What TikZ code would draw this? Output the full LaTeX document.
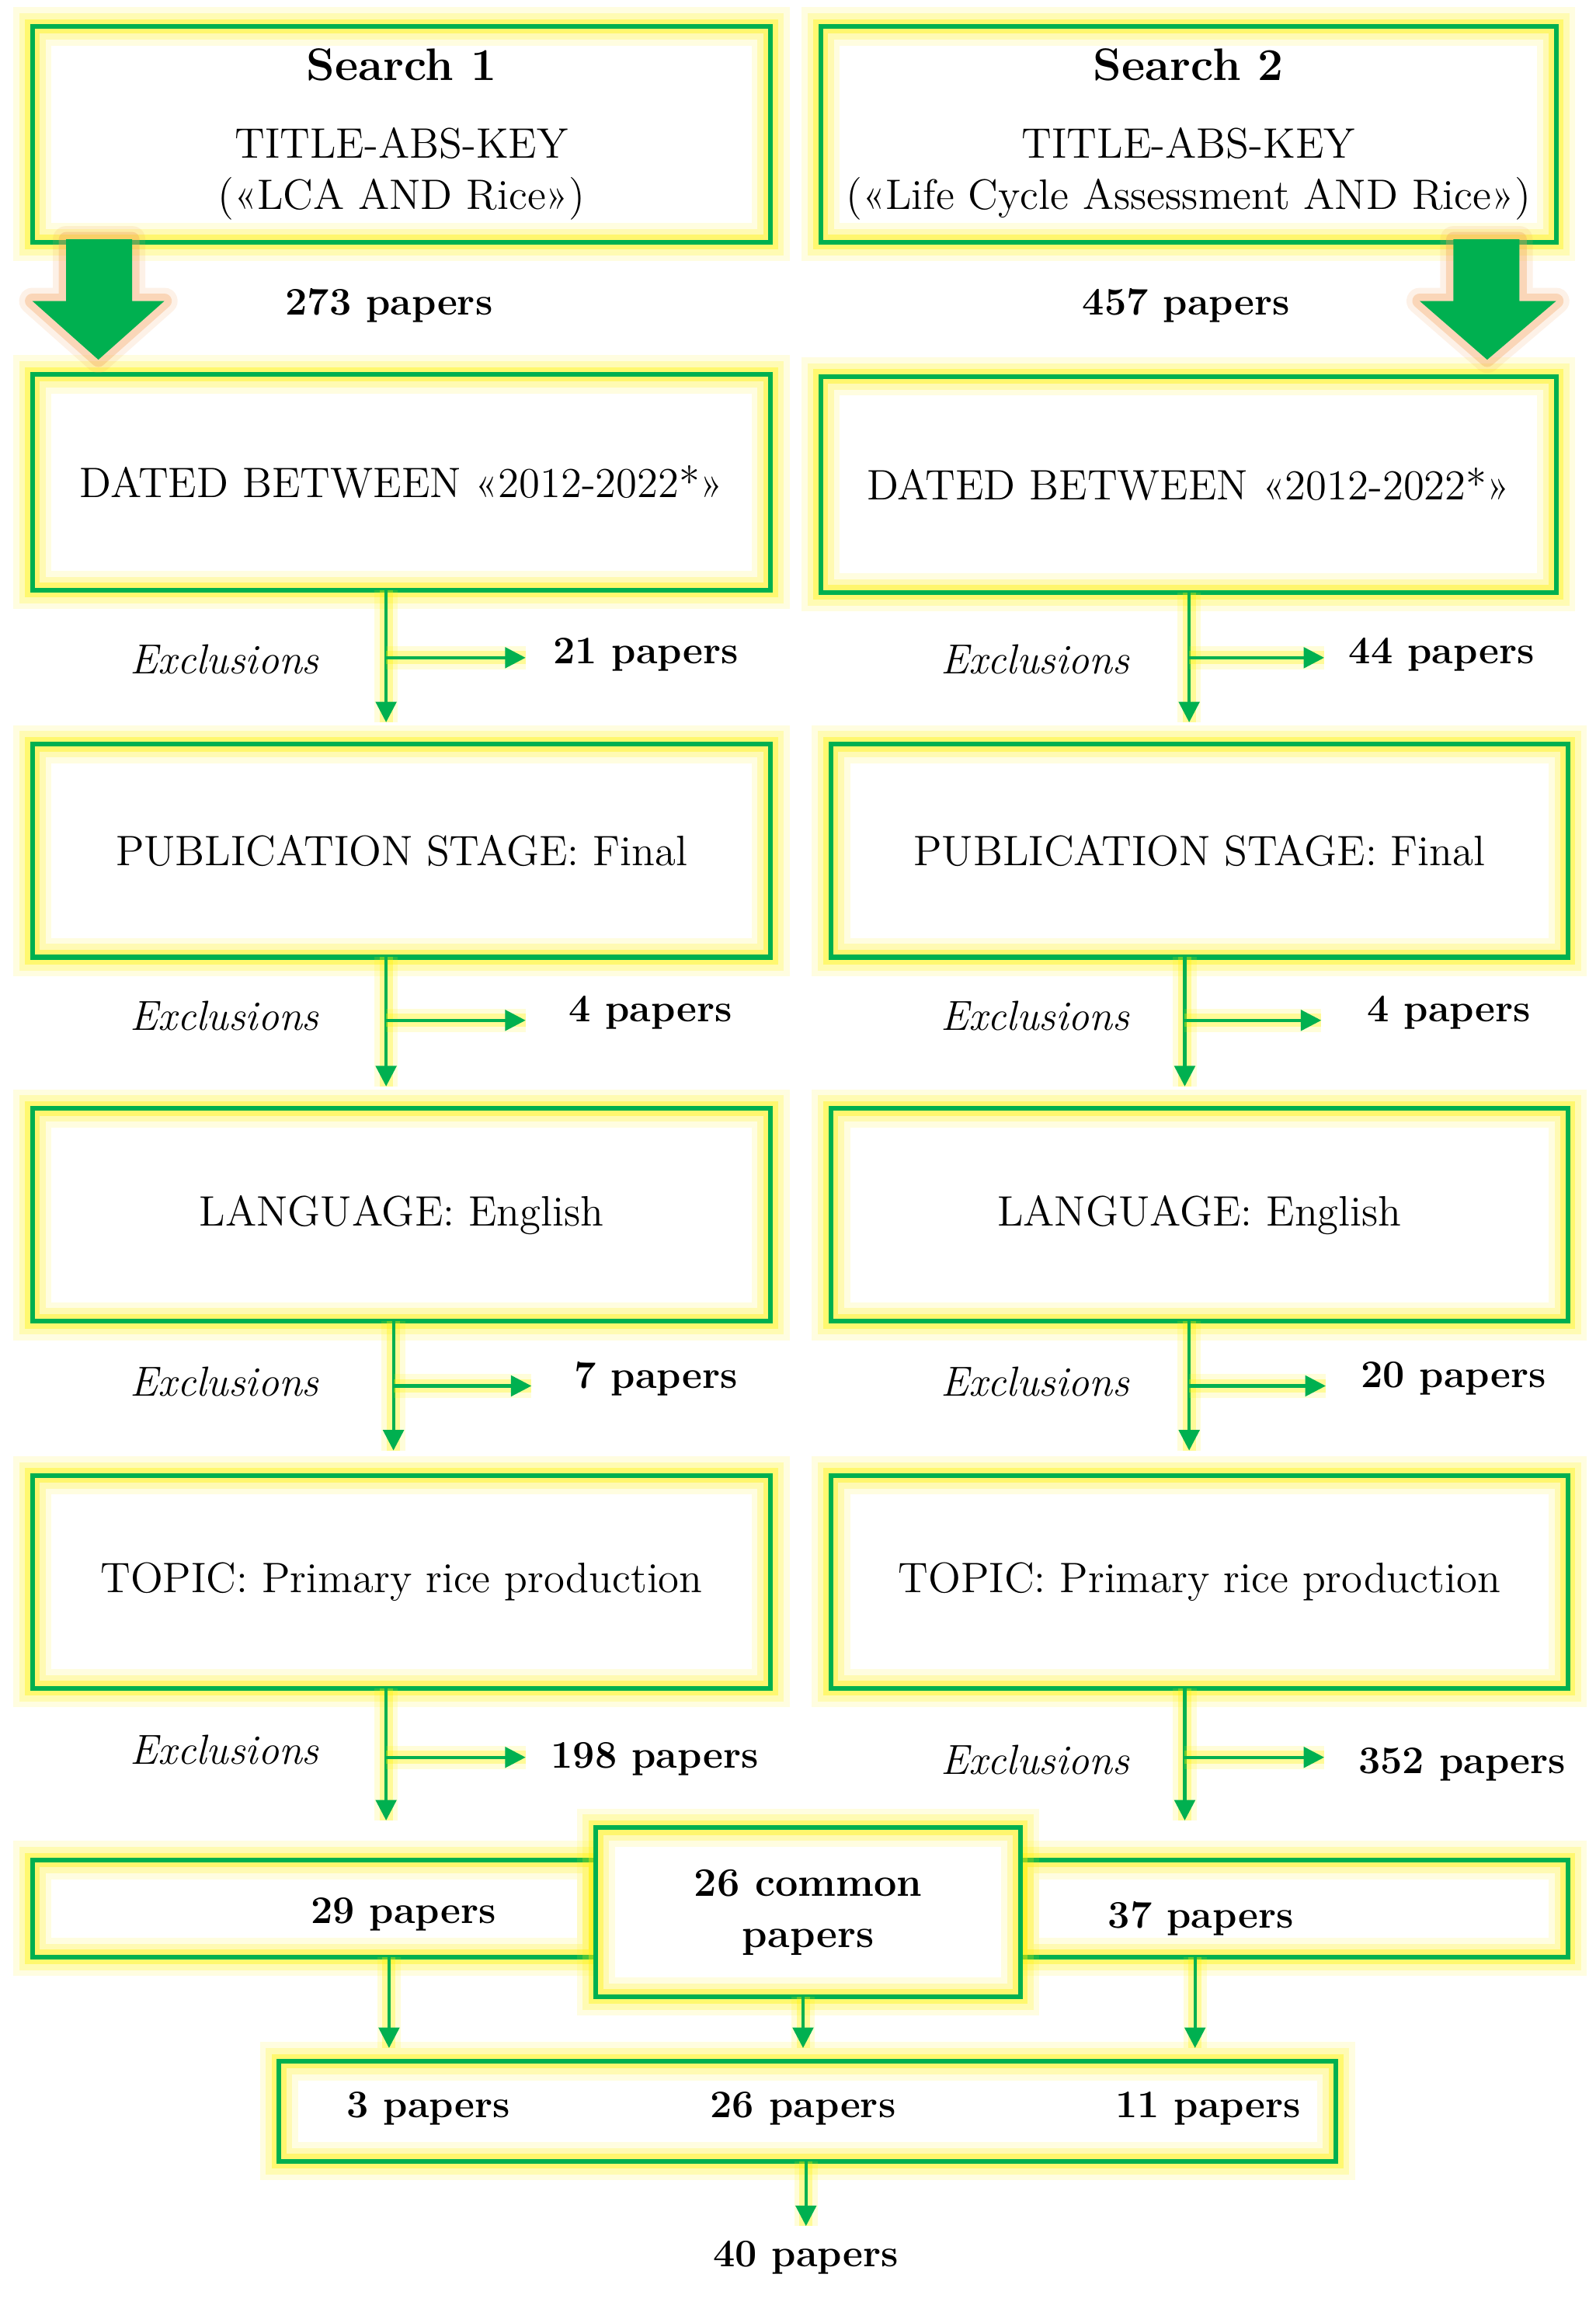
\documentclass[tikz,border=0pt]{standalone}
\usepackage{fontspec}
\usetikzlibrary{arrows.meta,calc}
\definecolor{gr}{HTML}{00B050}
\definecolor{glowy}{HTML}{FFF200}
\definecolor{glowo}{HTML}{F4A460}
\begin{document}
\begin{tikzpicture}[x=0.5pt,y=-0.5pt,
  glowbox/.style={inner sep=0pt, outer sep=0pt, align=center,
    font=\fontsize{14.5}{17.5}\selectfont,
    preaction={fill=white},
    preaction={draw=glowy, line width=13pt, draw opacity=0.12},
    preaction={draw=glowy, line width=9pt, draw opacity=0.2},
    preaction={draw=glowy, line width=5pt, draw opacity=0.38},
    draw=gr, line width=1.6pt},
  bigbox/.style={glowbox, minimum width=251.5pt, minimum height=73.5pt},
  arr/.style={draw=gr, line width=1.1pt, -{Triangle[length=7pt,width=7pt]},
    preaction={draw=glowy, line width=8pt, draw opacity=0.15, -},
    preaction={draw=glowy, line width=4.5pt, draw opacity=0.3, -}},
  cnt/.style={font=\fontsize{13.3}{16}\selectfont\bfseries, inner sep=0pt},
  excl/.style={font=\fontsize{14.3}{16}\selectfont\itshape, inner sep=0pt},
  bigarrow/.style={fill=gr, draw=none,
    preaction={draw=glowo, line width=9pt, draw opacity=0.15, line join=round},
    preaction={draw=glowo, line width=5pt, draw opacity=0.35, line join=round}}
  ]
\useasboundingbox (0,0) rectangle (1087,1568);

% Row 1: searches
\node[bigbox] (S1) at (273.5,91.5) {{\fontsize{15.5}{17}\selectfont\bfseries Search 1}\\[9pt] TITLE-ABS-KEY\\(«LCA AND Rice»)};
\node[bigbox, minimum width=250.5pt] (S2) at (809.5,91.5) {{\fontsize{15.5}{17}\selectfont\bfseries Search 2}\\[9pt] TITLE-ABS-KEY\\(«Life Cycle Assessment AND Rice»)};

\node[cnt] (n273) at (265,208) {273 papers};
\node[cnt] (n457) at (808,208) {457 papers};

% Row 2
\node[bigbox] (D1) at (273.5,328.5) {DATED BETWEEN «2012-2022*»};
\node[bigbox, minimum width=250.5pt] (D2) at (809.5,330) {DATED BETWEEN «2012-2022*»};

% big arrows
\draw[bigarrow] (45,163) -- (90,163) -- (90,205) -- (112,205) -- (67,245) -- (22,205) -- (45,205) -- cycle;
\draw[bigarrow] (990,163) -- (1035,163) -- (1035,205) -- (1060,205) -- (1013,245) -- (967,205) -- (990,205) -- cycle;

% Row 3
\node[bigbox, minimum height=72.5pt] (P1) at (273.5,579.5) {PUBLICATION STAGE: Final};
\node[bigbox, minimum height=72.5pt, minimum width=251pt] (P2) at (817,579.5) {PUBLICATION STAGE: Final};

% Row 4
\node[bigbox, minimum height=72.5pt] (L1) at (273.5,827.5) {LANGUAGE: English};
\node[bigbox, minimum height=72.5pt, minimum width=251pt] (L2) at (817,827.5) {LANGUAGE: English};

% Row 5
\node[bigbox, minimum height=72.5pt] (T1) at (273.5,1077.5) {TOPIC: Primary rice production};
\node[bigbox, minimum height=72.5pt, minimum width=251pt] (T2) at (817,1077.5) {TOPIC: Primary rice production};

% Row 6
\node[glowbox, minimum width=192pt, minimum height=33pt] (BL) at (214,1300) {};
\node[glowbox, minimum width=186.5pt, minimum height=33pt] (BR) at (881.5,1300) {};
\node[glowbox, minimum width=144.5pt, minimum height=57.5pt, font=\fontsize{13.8}{17.5}\selectfont\bfseries] (C) at (550.5,1302.5) {26 common\\papers};
\node[cnt] (t29) at (275,1304) {29 papers};
\node[cnt] (t37) at (818,1307) {37 papers};

% Bottom
\node[glowbox, minimum width=360pt, minimum height=34pt] (BB) at (550,1438) {};
\node[cnt] (t3) at (292,1436) {3 papers};
\node[cnt] (t26) at (547,1436) {26 papers};
\node[cnt] (t11) at (823,1436) {11 papers};
\node[cnt] (n40) at (549,1538) {40 papers};

% x positions of connectors
\coordinate (xa) at (263,0);
\coordinate (xc) at (268,0);
\coordinate (ya) at (810,0);
\coordinate (yb) at (807,0);

% Exclusions row a
\draw[arr, shorten >=7.5pt] (D1.south -| xa) -- (P1.north -| xa);
\coordinate (a1) at (263,448); \coordinate (a1e) at (358,448);
\draw[arr] (a1) -- (a1e);
\node[excl] at (153,449) {Exclusions};
\node[cnt] at (440,446) {21 papers};
\draw[arr, shorten >=7.5pt] (D2.south -| ya) -- (P2.north -| ya);
\coordinate (a2) at (810,448); \coordinate (a2e) at (902,448);
\draw[arr] (a2) -- (a2e);
\node[excl] at (705,449) {Exclusions};
\node[cnt] at (982,446) {44 papers};

% Exclusions row b
\draw[arr, shorten >=7.5pt] (P1.south -| xa) -- (L1.north -| xa);
\coordinate (b1) at (263,695); \coordinate (b1e) at (358,695);
\draw[arr] (b1) -- (b1e);
\node[excl] at (153,692) {Exclusions};
\node[cnt] at (443,690) {4 papers};
\draw[arr, shorten >=7.5pt] (P2.south -| yb) -- (L2.north -| yb);
\coordinate (b2) at (807,695); \coordinate (b2e) at (900,695);
\draw[arr] (b2) -- (b2e);
\node[excl] at (705,692) {Exclusions};
\node[cnt] at (987,690) {4 papers};

% Exclusions row c
\draw[arr, shorten >=8.5pt] (L1.south -| xc) -- (T1.north -| xc);
\coordinate (c1) at (268,944); \coordinate (c1e) at (362,944);
\draw[arr] (c1) -- (c1e);
\node[excl] at (153,941) {Exclusions};
\node[cnt] at (447,939) {7 papers};
\draw[arr, shorten >=8.5pt] (L2.south -| ya) -- (T2.north -| ya);
\coordinate (c2) at (810,944); \coordinate (c2e) at (903,944);
\draw[arr] (c2) -- (c2e);
\node[excl] at (705,941) {Exclusions};
\node[cnt] at (990,939) {20 papers};

% Exclusions row d
\draw[arr, shorten >=13.5pt] (T1.south -| xa) -- (BL.north -| xa);
\coordinate (d1) at (263,1197); \coordinate (d1e) at (358,1197);
\draw[arr] (d1) -- (d1e);
\node[excl] at (153,1192) {Exclusions};
\node[cnt] at (446,1198) {198 papers};
\draw[arr, shorten >=13.5pt] (T2.south -| yb) -- (BR.north -| yb);
\coordinate (d2) at (807,1197); \coordinate (d2e) at (902,1197);
\draw[arr] (d2) -- (d2e);
\node[excl] at (705,1199) {Exclusions};
\node[cnt] at (996,1202) {352 papers};

% Row 6 to bottom
\coordinate (xe) at (265,0);
\coordinate (xf) at (547,0);
\coordinate (xg) at (814,0);
\draw[arr, shorten >=4.5pt] (BL.south -| xe) -- (BB.north -| xe);
\draw[arr, shorten >=4.5pt] (C.south -| xf) -- (BB.north -| xf);
\draw[arr, shorten >=4.5pt] (BR.south -| xg) -- (BB.north -| xg);
\draw[arr, shorten >=5pt] (BB.south -| n40) -- (n40.north);
\end{tikzpicture}
\end{document}
